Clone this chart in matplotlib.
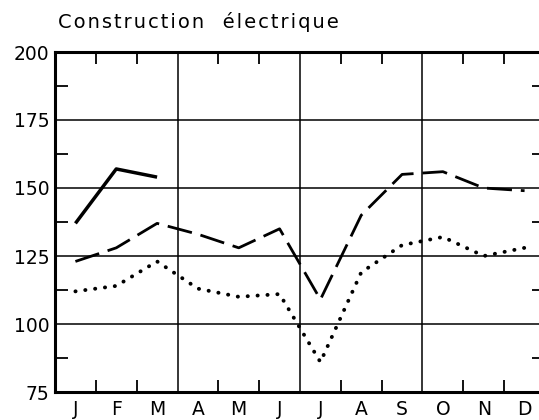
import numpy as np
import matplotlib
matplotlib.use("Agg")
import matplotlib.pyplot as plt

# Monthly index values
months = ["J", "F", "M", "A", "M", "J", "J", "A", "S", "O", "N", "D"]
solid_vals = [137, 157, 154]                     # Jan-Mar only
dashed_vals = [123, 128, 137, 133, 128, 135, 109, 140, 155, 156, 150, 149]
dotted_vals = [112, 114, 123, 113, 110, 111, 86, 119, 129, 132, 125, 128]
y_major = [75, 100, 125, 150, 175, 200]
y_minor = [87.5, 112.5, 137.5, 162.5, 187.5]
quarter_lines = [3.5, 6.5, 9.5]
title = "Construction  électrique"

plt.rcParams['font.family'] = ['DejaVu Sans']

fig = plt.figure(figsize=(5.39, 4.20), dpi=100)
ax = fig.add_axes([55/539, 28/420, 490/539, 340/420])

x = np.arange(1, 13)
ax.plot(x[:len(solid_vals)], solid_vals, color='black', lw=2.5,
        solid_capstyle='butt', zorder=5)
ax.plot(x, dashed_vals, color='black', lw=2.0, dashes=(9, 3.2),
        zorder=5)
ax.plot(x, dotted_vals, color='black', lw=2.8, dashes=(0.05, 2.5),
        dash_capstyle='round', zorder=5)

ax.set_xlim(0.5, 12.5)
ax.set_ylim(75, 200)

# grid
for v in y_major[1:-1]:
    ax.axhline(v, color='black', lw=1.1, zorder=2)
for q in quarter_lines:
    ax.axvline(q, color='black', lw=1.1, zorder=2)

ax.set_yticks(y_major)
ax.set_yticks(y_minor, minor=True)
ax.set_xticks(x)
ax.set_xticklabels(months)
ax.set_xticks([b for b in np.arange(1.5, 12.5, 1.0) if b not in quarter_lines],
              minor=True)

ax.tick_params(axis='y', which='major', length=0, pad=4, labelsize=13.5)
ax.tick_params(axis='y', which='minor', direction='in', length=9.5,
               width=1.3, left=True, right=True)
ax.tick_params(axis='x', which='major', length=0, pad=6, labelsize=13.5)
ax.tick_params(axis='x', which='minor', direction='in', length=8.5,
               width=1.3, top=True, bottom=True)

for side in ['left', 'bottom', 'top']:
    ax.spines[side].set_linewidth(2.2)
ax.spines['right'].set_linewidth(1.5)

# spread the title letters like the original lettering
spaced = "\u200a".join(title)
fig.text(58/539, 1 - 22/420, spaced, fontsize=14, ha='left', va='center')

fig.savefig('out.png', dpi=100)
